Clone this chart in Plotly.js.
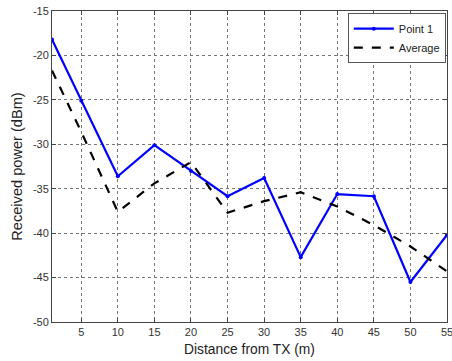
<!DOCTYPE html>
<html>
<head>
<meta charset="utf-8">
<script src="https://cdn.plot.ly/plotly-3.0.1.min.js"></script>
<style>html,body{margin:0;padding:0;background:#fff;}#chart{width:452px;height:361px;}</style>
</head>
<body>
<div id="chart"></div>
<script>
var distance = [1, 5, 10, 15, 20, 25, 30, 35, 40, 45, 50, 55];
var point1 = [-18.2, -25.1, -33.6, -30.1, -33.0, -35.85, -33.8, -42.7, -35.6, -35.85, -45.5, -40.2];
var average = [-21.7, -28.6, -37.6, -34.4, -32.0, -37.7, -36.4, -35.4, -37.0, -39.1, -41.5, -44.3];
var xTicks = [5, 10, 15, 20, 25, 30, 35, 40, 45, 50, 55];
var yTicks = [-50, -45, -40, -35, -30, -25, -20, -15];

var traces = [
  {x: distance, y: point1, name: 'Point 1', type: 'scatter', mode: 'lines+markers',
   line: {color: '#0000ff', width: 2.2}, marker: {color: '#0000ff', size: 4}},
  {x: distance, y: average, name: 'Average', type: 'scatter', mode: 'lines',
   line: {color: '#000000', width: 2.2, dash: 'dash'}}
];

var axisCommon = {
  showline: true, mirror: 'ticks', linecolor: '#444', linewidth: 1,
  ticks: 'inside', ticklen: 4, tickcolor: '#444',
  showgrid: true, gridcolor: '#777', griddash: 'dot', gridwidth: 1,
  zeroline: false, ticklabeloverflow: 'allow',
  tickfont: {family: 'Arial, Liberation Sans, sans-serif', size: 11, color: '#333'}
};

var layout = {
  width: 452, height: 361,
  margin: {l: 52, r: 5, t: 11, b: 39},
  paper_bgcolor: '#fff', plot_bgcolor: '#fff',
  showlegend: true,
  legend: {x: 0.997, y: 0.993, xanchor: 'right', yanchor: 'top',
           bgcolor: '#fff', bordercolor: '#555', borderwidth: 1,
           font: {family: 'Arial, Liberation Sans, sans-serif', size: 11, color: '#222'},
           tracegroupgap: 0, itemwidth: 40},
  xaxis: Object.assign({}, axisCommon, {
    range: [1, 55], tickmode: 'array', tickvals: xTicks, ticktext: xTicks.map(String),
    title: {text: 'Distance from TX (m)', standoff: 7,
            font: {family: 'Arial, Liberation Sans, sans-serif', size: 13.8, color: '#222'}}
  }),
  yaxis: Object.assign({}, axisCommon, {
    range: [-50, -15], tickmode: 'array', tickvals: yTicks, ticktext: yTicks.map(String),
    title: {text: 'Received power (dBm)', standoff: 6,
            font: {family: 'Arial, Liberation Sans, sans-serif', size: 14.6, color: '#222'}}
  })
};

Plotly.newPlot('chart', traces, layout, {displayModeBar: false, staticPlot: true});
</script>
</body>
</html>
